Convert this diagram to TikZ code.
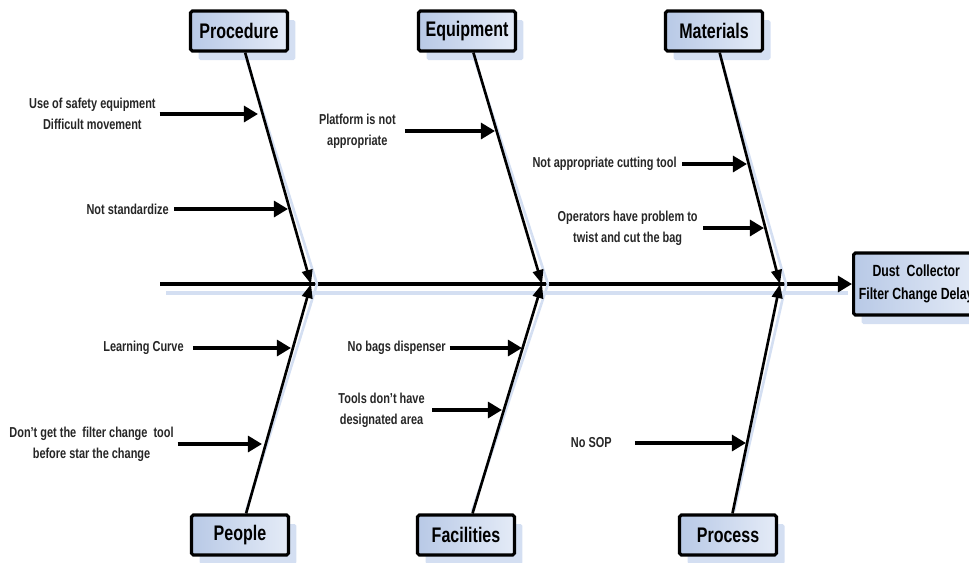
\documentclass[tikz,border=0pt]{standalone}
\usepackage{fontspec}
\setmainfont{Liberation Sans}[FakeStretch=0.76]
\usetikzlibrary{arrows.meta,shadows,positioning}

\definecolor{boxleft}{RGB}{184,201,230}
\definecolor{boxright}{RGB}{228,235,247}
\definecolor{shadowblue}{RGB}{212,223,242}

\tikzset{
  catbox/.style={draw, line width=1.8pt, rounded corners=1pt,
    left color=boxleft, right color=boxright,
    minimum width=1.94cm, minimum height=0.8cm, inner sep=2pt,
    font=\bfseries\fontsize{12}{14}\selectfont,
    drop shadow={shadow xshift=0.16cm, shadow yshift=-0.18cm, fill=shadowblue, opacity=1}},
  effectbox/.style={catbox, minimum height=1.24cm, align=center, inner sep=3pt,
    font=\bfseries\fontsize{9.2}{13}\selectfont},
  cause/.style={align=center, inner sep=0pt, text=black!85,
    font=\bfseries\fontsize{8.2}{12}\selectfont},
  spine/.style={line width=2.2pt, -{Triangle[length=8pt,width=9pt]}},
  bone/.style={line width=1.5pt, -{Triangle[length=8pt,width=6pt]}},
  sub/.style={line width=2.2pt, -{Triangle[length=8pt,width=9pt]}},
  haze/.style={line width=1.5pt, shadowblue}
}

\begin{document}
\begin{tikzpicture}[x=0.02cm, y=-0.02cm]
\clip (0,0) rectangle (969,562);

% effect and spine
\node[effectbox, anchor=west] (effect) at (852,284) {Dust~~Collector\\Filter Change Delay};
\coordinate (tail) at (160,284);
\draw[haze, line width=2pt] ([shift={(6,9)}]tail) -- ([shift={(-4,9)}]effect.west);
\draw[spine] (tail) -- (effect.west);

\coordinate (jA) at (311,284);
\coordinate (jB) at (542,284);
\coordinate (jC) at (780,284);

% categories
\node[catbox] (proc)  at (239,31)  {Procedure};
\node[catbox] (equip) at (467,31)  {Equipment};
\node[catbox] (mat)   at (714,31)  {Materials};
\node[catbox] (peop)  at (240,535) {People};
\node[catbox] (faci)  at (466,535) {Facilities};
\node[catbox] (proce) at (728,535) {Process};

\foreach \c/\j in {proc/jA, equip/jB, mat/jC}
  \draw[haze] ([shift={(6,2)}]\c.south) -- ([shift={(6,0)}]\j);
\foreach \c/\j in {peop/jA, faci/jB, proce/jC}
  \draw[haze] ([shift={(6,-2)}]\c.north) -- ([shift={(6,0)}]\j);
\foreach \c/\j in {proc/jA, equip/jB, mat/jC, peop/jA, faci/jB, proce/jC}
  \draw[bone] (\c) -- (\j);

% causes
\node[cause, anchor=east] (c1) at (156,114) {Use of safety equipment\\Difficult movement};
\node[cause, anchor=east] (c2) at (169,209) {Not standardize};
\node[cause, anchor=east] (c3) at (396,131) {Platform is not\\appropriate};
\node[cause, anchor=east] (c4) at (677,164) {Not appropriate cutting tool};
\node[cause, anchor=east] (c5) at (698,228) {Operators have problem to\\twist and cut the bag};
\node[cause, anchor=east] (c6) at (184,348) {Learning Curve};
\node[cause, anchor=east] (c7) at (174,444) {Don't get the\ \ filter change\ \ tool\\before star the change};
\node[cause, anchor=east] (c8) at (446,348) {No bags dispenser};
\node[cause, anchor=east] (c9) at (425,410) {Tools don't have\\designated area};
\node[cause, anchor=east] (c10) at (612,443) {No SOP};

\coordinate (e1) at (258,114);
\coordinate (e2) at (288,209);
\coordinate (e3) at (495,131);
\coordinate (e4) at (747,164);
\coordinate (e5) at (764,228);
\coordinate (e6) at (291,348);
\coordinate (e7) at (262,444);
\coordinate (e8) at (522,348);
\coordinate (e9) at (502,410);
\coordinate (e10) at (746,443);

\draw[sub] ([xshift=2pt]c1.east) -- (e1);
\draw[sub] ([xshift=3pt]c2.east) -- (e2);
\draw[sub] ([xshift=5pt]c3.east) -- (e3);
\draw[sub] ([xshift=3pt]c4.east) -- (e4);
\draw[sub] ([xshift=3pt]c5.east) -- (e5);
\draw[sub] ([xshift=5pt]c6.east) -- (e6);
\draw[sub] ([xshift=2pt]c7.east) -- (e7);
\draw[sub] ([xshift=2pt]c8.east) -- (e8);
\draw[sub] ([xshift=4pt]c9.east) -- (e9);
\draw[sub] ([xshift=13pt]c10.east) -- (e10);
\end{tikzpicture}
\end{document}
